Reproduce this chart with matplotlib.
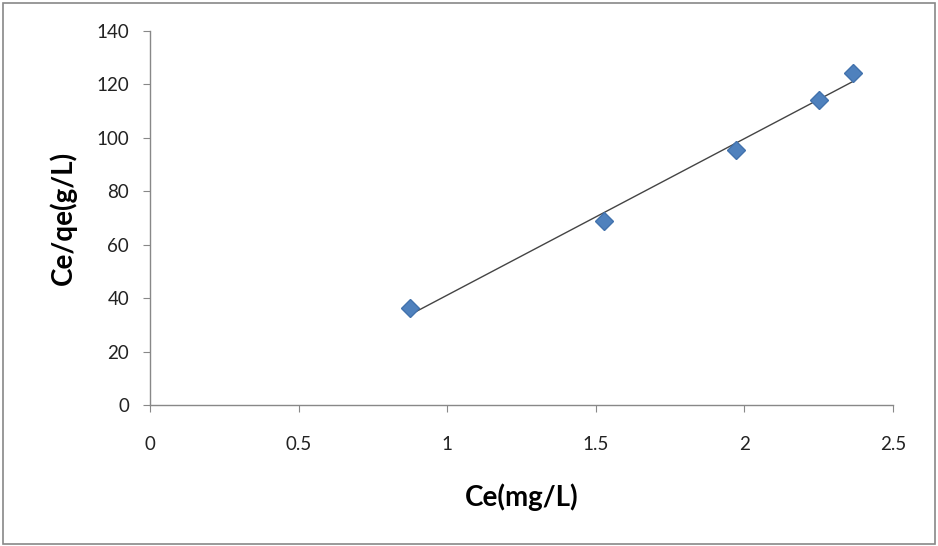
import numpy as np
import matplotlib
matplotlib.use("Agg")
import matplotlib.pyplot as plt
from matplotlib.patches import Rectangle

ce = [0.875, 1.528, 1.972, 2.250, 2.364]
ce_qe = [36.2, 69.0, 95.5, 114.2, 124.4]
x_ticks = [0, 0.5, 1, 1.5, 2, 2.5]
x_tick_labels = ["0", "0.5", "1", "1.5", "2", "2.5"]
y_ticks = [0, 20, 40, 60, 80, 100, 120, 140]

plt.rcParams['font.family'] = ['Lato', 'DejaVu Sans']

fig = plt.figure(figsize=(9.38, 5.46), dpi=100)
fig.patches.append(Rectangle((0.003, 0.004), 0.994, 0.99, transform=fig.transFigure,
                             fill=False, edgecolor='#888888', linewidth=1.2))
ax = fig.add_axes([150/938, 1-405/546, (893-150)/938, (405-31)/546])

slope, intercept = np.polyfit(ce, ce_qe, 1)
xs = np.array([min(ce), max(ce)])
ax.plot(xs, slope*xs + intercept, color='#444444', linewidth=1.0, zorder=2)
ax.plot(ce, ce_qe, linestyle='none', marker='D', markersize=9.5,
        color='#4F81BD', markeredgecolor='#4272AD', zorder=3)

ax.set_xlim(0, 2.5)
ax.set_ylim(0, 140)
ax.set_xticks(x_ticks)
ax.set_xticklabels(x_tick_labels)
ax.set_yticks(y_ticks)
for s in ['top', 'right']:
    ax.spines[s].set_visible(False)
for s in ['left', 'bottom']:
    ax.spines[s].set_color('#888888')
    ax.spines[s].set_linewidth(1.0)
ax.tick_params(axis='both', direction='out', length=5, color='#888888',
               labelsize=13.5, labelcolor='#222222')
ax.tick_params(axis='x', pad=17)
ax.tick_params(axis='y', pad=10)
ax.set_xlabel('Ce(mg/L)', fontsize=20, fontweight='bold', labelpad=22)
ax.set_ylabel('Ce/qe(g/L)', fontsize=20, fontweight='bold', labelpad=14)

fig.savefig('out.png', dpi=100)
